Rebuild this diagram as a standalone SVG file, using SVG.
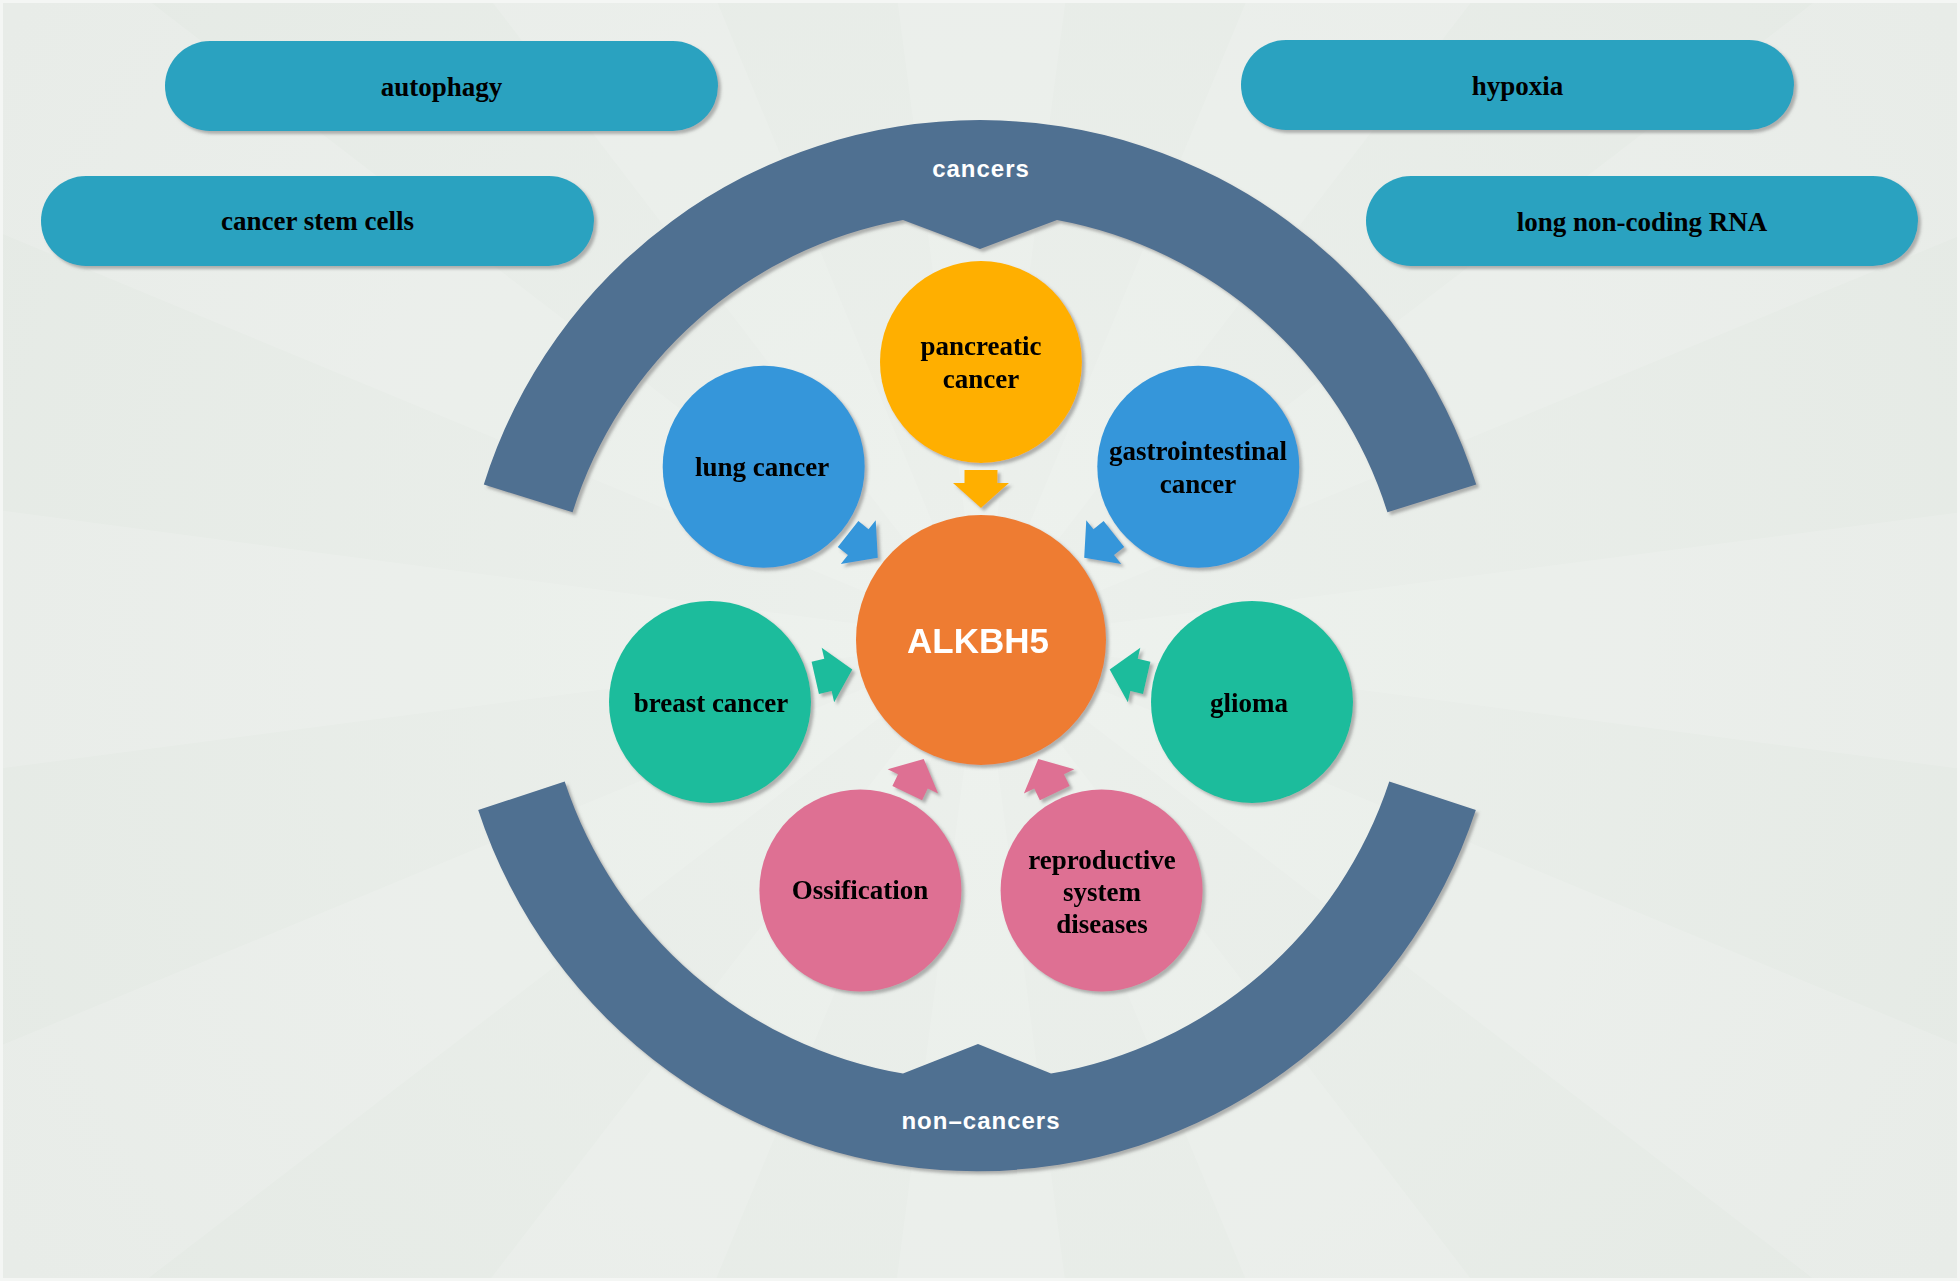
<svg xmlns="http://www.w3.org/2000/svg" width="1960" height="1281" viewBox="0 0 1960 1281">
  <defs>
    <radialGradient id="bg" cx="981" cy="640" r="1150" gradientUnits="userSpaceOnUse">
      <stop offset="0" stop-color="#ECF0EC"/>
      <stop offset="1" stop-color="#E5EAE5"/>
    </radialGradient>
    <filter id="sh" x="-15%" y="-15%" width="135%" height="135%">
      <feDropShadow dx="3" dy="3" stdDeviation="1.5" flood-color="#6f6f6f" flood-opacity="0.5"/>
    </filter>
    <style>
      .pill { fill: #2BA2C0; filter: url(#sh); }
      .arc { fill: #4F6F91; filter: url(#sh); }
      .circ { filter: url(#sh); }
      .blue { fill: #3596DA; }
      .yellow { fill: #FFAF00; }
      .teal { fill: #1BBC9C; }
      .pink { fill: #DE7093; }
      .orange { fill: #EE7C32; }
      .lbl { font-family: "Liberation Serif", "Times New Roman", serif; font-weight: bold; font-size: 27px; fill: #000; text-anchor: middle; }
      .arcl { font-family: "Liberation Sans", Arial, sans-serif; font-weight: bold; font-size: 24px; fill: #fff; text-anchor: middle; letter-spacing: 1px; }
      .hub { font-family: "Liberation Sans", Arial, sans-serif; font-weight: bold; font-size: 35px; fill: #fff; text-anchor: middle; }
    </style>
    <polygon id="arw" points="170,-16.5 157,-16.5 157,-28 132,0 157,28 157,16.5 170,16.5"/>
  </defs>

  <!-- background -->
  <rect x="0" y="0" width="1960" height="1281" fill="url(#bg)"/>
  <circle cx="981" cy="640" r="1100" fill="none" stroke="#ffffff" stroke-opacity="0.13" stroke-width="2200" stroke-dasharray="288 288" stroke-dashoffset="144"/>
  <rect x="1.5" y="1.5" width="1957" height="1278" fill="none" stroke="#F4F6F4" stroke-width="3"/>

  <!-- arcs -->
  <g id="arc-cancers">
    <path class="arc" d="M 483.8 484.5 A 520 520 0 0 1 1476.2 484.5 L 1387.4 512.3 A 427 427 0 0 0 1057 220 L 980 249 L 903 220 A 427 427 0 0 0 572.6 512.3 Z"/>
    <text class="arcl" x="981" y="177">cancers</text>
  </g>
  <g id="arc-noncancers">
    <path class="arc" d="M 478.2 810 A 525 525 0 0 0 1475.8 810 L 1389.3 781.5 A 434 434 0 0 1 1051 1073.6 L 978 1044 L 903 1073.6 A 434 434 0 0 1 564.7 781.5 Z"/>
    <text class="arcl" x="981" y="1129">non–cancers</text>
  </g>

  <!-- pills -->
  <g id="autophagy">
    <rect class="pill" x="165" y="41" width="553" height="90" rx="45" ry="45"/>
    <text class="lbl" x="441.5" y="96">autophagy</text>
  </g>
  <g id="cancer-stem-cells">
    <rect class="pill" x="41" y="176" width="553" height="90" rx="45" ry="45"/>
    <text class="lbl" x="317.5" y="230">cancer stem cells</text>
  </g>
  <g id="hypoxia">
    <rect class="pill" x="1241" y="40" width="553" height="90" rx="45" ry="45"/>
    <text class="lbl" x="1517.5" y="95">hypoxia</text>
  </g>
  <g id="lncRNA">
    <rect class="pill" x="1366" y="176" width="552" height="90" rx="45" ry="45"/>
    <text class="lbl" x="1642" y="231">long non-coding RNA</text>
  </g>

  <!-- connectors -->
  <g id="connectors" filter="url(#sh)">
    <use href="#arw" class="yellow" transform="translate(981 640) rotate(-90)"/>
    <use href="#arw" class="blue" transform="translate(981 640) rotate(-141.43)"/>
    <use href="#arw" class="blue" transform="translate(981 640) rotate(-38.57)"/>
    <use href="#arw" class="teal" transform="translate(981 640) rotate(167.14)"/>
    <use href="#arw" class="teal" transform="translate(981 640) rotate(12.86)"/>
    <use href="#arw" class="pink" transform="translate(981 640) rotate(115.71)"/>
    <use href="#arw" class="pink" transform="translate(981 640) rotate(64.29)"/>
  </g>

  <!-- circle nodes -->
  <g id="ALKBH5">
    <circle class="circ orange" cx="981" cy="640" r="125"/>
    <text class="hub" x="978" y="653">ALKBH5</text>
  </g>
  <g id="pancreatic-cancer">
    <circle class="circ yellow" cx="981" cy="362" r="101"/>
    <text class="lbl" x="981" y="355">pancreatic</text>
    <text class="lbl" x="981" y="388">cancer</text>
  </g>
  <g id="lung-cancer">
    <circle class="circ blue" cx="763.7" cy="466.7" r="101"/>
    <text class="lbl" x="762" y="476">lung cancer</text>
  </g>
  <g id="gastrointestinal-cancer">
    <circle class="circ blue" cx="1198.3" cy="466.7" r="101"/>
    <text class="lbl" x="1198" y="460">gastrointestinal</text>
    <text class="lbl" x="1198" y="493">cancer</text>
  </g>
  <g id="breast-cancer">
    <circle class="circ teal" cx="710" cy="701.9" r="101"/>
    <text class="lbl" x="711" y="712">breast cancer</text>
  </g>
  <g id="glioma">
    <circle class="circ teal" cx="1252" cy="701.9" r="101"/>
    <text class="lbl" x="1249" y="712">glioma</text>
  </g>
  <g id="ossification">
    <circle class="circ pink" cx="860.4" cy="890.5" r="101"/>
    <text class="lbl" x="860" y="899">Ossification</text>
  </g>
  <g id="reproductive-system-diseases">
    <circle class="circ pink" cx="1101.6" cy="890.5" r="101"/>
    <text class="lbl" x="1102" y="869">reproductive</text>
    <text class="lbl" x="1102" y="901">system</text>
    <text class="lbl" x="1102" y="933">diseases</text>
  </g>
</svg>
